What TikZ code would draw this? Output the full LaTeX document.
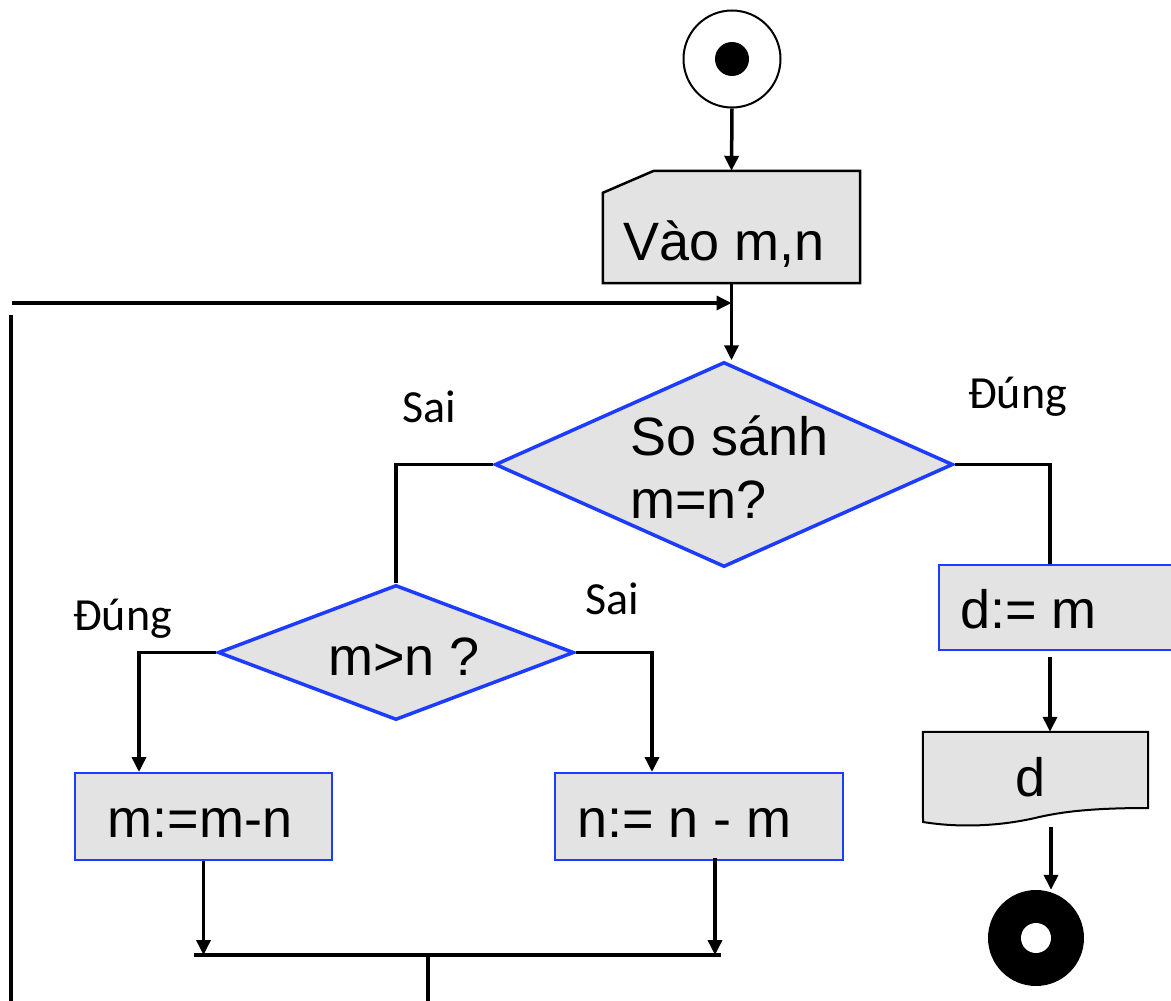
\documentclass[tikz,border=0pt]{standalone}
\usepackage{fontspec}
\setmainfont{Liberation Sans}
\newfontfamily\lblfont{Carlito}
\usetikzlibrary{arrows.meta,shapes.geometric,calc}
\definecolor{boxgray}{HTML}{E3E3E3}
\definecolor{flowblue}{RGB}{30,60,255}
\begin{document}
\begin{tikzpicture}[x=1pt,y=-1pt,
  conn/.style={line width=3.5pt},
  arr/.style={conn,-{Triangle[length=15pt,width=14pt]}},
  procbox/.style={rectangle,draw=flowblue,line width=2pt,fill=boxgray,inner sep=0pt},
  decis/.style={diamond,draw=flowblue,line width=3.5pt,fill=boxgray,inner sep=0pt},
  bigtxt/.style={font=\fontsize{54}{63}\selectfont,inner sep=0pt},
  lbl/.style={font=\lblfont\fontsize{46}{50}\selectfont,inner sep=0pt}
]
\useasboundingbox (0,0) rectangle (1171,1001);

% start
\node[circle,draw,line width=2pt,minimum size=97pt,inner sep=0pt] (start) at (732,59) {};
\fill (start.center) circle (17pt);

% input
\node[rectangle,draw=none,minimum width=257pt,minimum height=112pt,inner sep=0pt] (inp) at (731.5,227) {};
\draw[line width=2.5pt,fill=boxgray] ($(inp.north west)+(0,22)$) -- ($(inp.north west)+(51,0)$) -- (inp.north east) -- (inp.south east) -- (inp.south west) -- cycle;
\node[bigtxt,anchor=base west] (tinp) at (623,260) {Vào m,n};

% decisions
\node[decis,minimum width=458pt,minimum height=205pt] (bigd) at (724,464.5) {};
\node[bigtxt,anchor=base west] (tb1) at (630,455) {So sánh};
\node[bigtxt,anchor=base west] (tb2) at (630,518) {m=n?};

\node[decis,minimum width=356pt,minimum height=135pt] (smalld) at (396,652.5) {};
\node[bigtxt,anchor=base west] (ts) at (328,675) {m>n ?};

% process boxes
\node[procbox,minimum width=257pt,minimum height=87pt] (box1) at (203.5,816.5) {};
\node[bigtxt,anchor=base] (t1) at (200,837) {m:=m-n};
\node[procbox,minimum width=288pt,minimum height=87pt] (box2) at (699,816.5) {};
\node[bigtxt,anchor=base west] (t2) at (577,837) {n:= n - m};
\node[procbox,minimum width=261pt,minimum height=85pt] (dm) at (1069.5,607.5) {};
\node[bigtxt,anchor=base west] (t3) at (960,628) {d:= m};

% document
\node[rectangle,draw=none,minimum width=225pt,minimum height=90pt,inner sep=0pt] (doc) at (1035.5,777) {};
\draw[line width=2pt,fill=boxgray] (doc.north west) -- (doc.north east) -- (1148,808)
  .. controls (1090,808) and (1060,812) .. (1035,818)
  .. controls (1000,826) and (960,828) .. (923,822) -- cycle;
\node[bigtxt,anchor=base] (td) at (1031,796) {d};

% end
\node[circle,fill=black,minimum size=96pt,inner sep=0pt] (end) at (1036,938) {};
\fill[white] (end.center) circle (15pt);

% connectors
\draw[arr] (start.south) -- (inp.north);
\coordinate (loopL) at (12,303);
\draw[arr] (loopL) -- (loopL -| inp.south);
\draw[arr] (inp.south) -- (inp.south |- bigd.north);
\draw[conn] (bigd.west) -| (smalld.north);
\draw[conn] (bigd.east) -| ($(dm.north west)+(112,0)$);
\draw[arr] (smalld.west) -| ($(box1.north west)+(65,0)$);
\draw[arr] (smalld.east) -| ($(box2.north west)+(98,0)$);

\coordinate (barL) at (194,955);
\coordinate (barR) at (721,955);
\draw[line width=4.5pt] (barL) -- (barR);
\draw[arr] (box1.south) -- (box1.south |- barL);
\coordinate (b2out) at ($(box2.south west)+(161,-3)$);
\draw[arr] (b2out) -- (b2out |- barL);
\coordinate (out) at (428,1001);
\draw[conn] (barL -| out) -- (out);
\coordinate (lt) at (11,315);
\coordinate (lb) at (11,1001);
\draw[conn] (lt) -- (lb);

\coordinate (dmOut) at ($(dm.south west)+(112,6)$);
\draw[arr] (dmOut) -- (dmOut |- doc.north);
\coordinate (docOut) at (1051,827);
\draw[arr] (docOut) -- (docOut |- end.north);

% labels
\node[lbl,anchor=base west] (l1) at (402,422) {Sai};
\node[lbl,anchor=base west] (l2) at (968,408) {Đúng};
\node[lbl,anchor=base west] (l3) at (73,630) {Đúng};
\node[lbl,anchor=base west] (l4) at (585,614) {Sai};
\end{tikzpicture}
\end{document}
